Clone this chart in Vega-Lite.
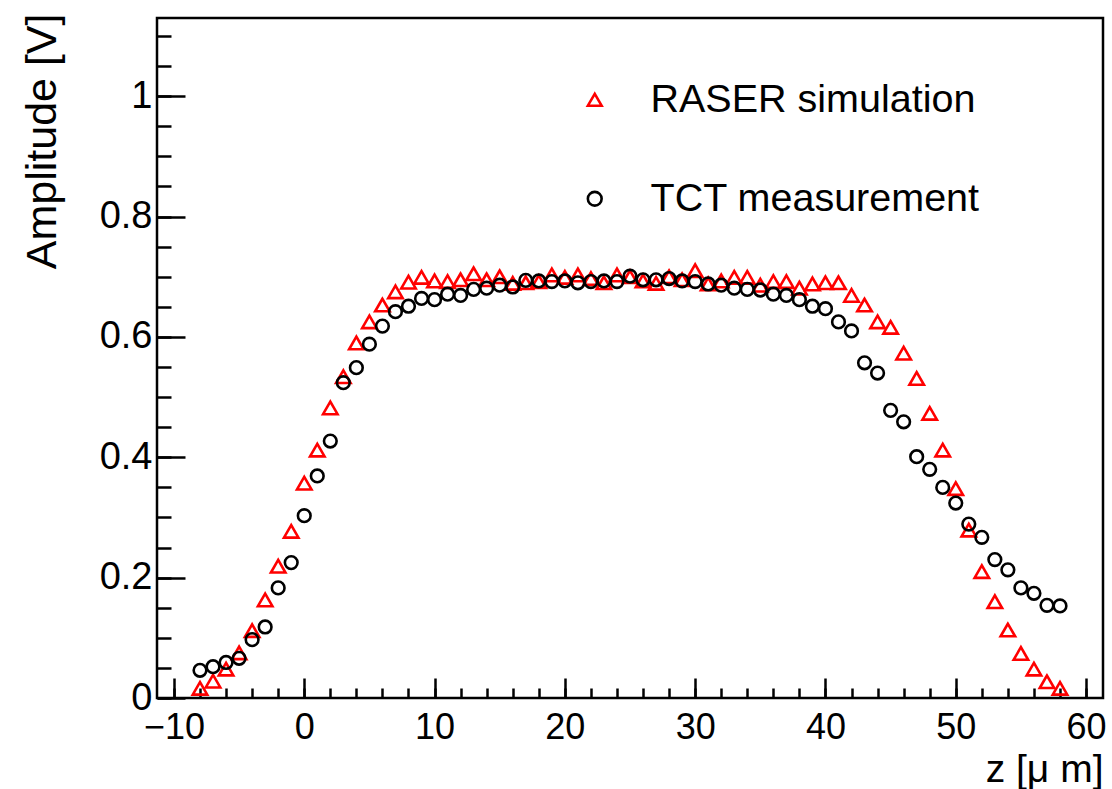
{
  "$schema": "https://vega.github.io/schema/vega-lite/v6.json",
  "width": 946,
  "height": 680,
  "autosize": {"type": "none"},
  "padding": {"left": 157, "top": 18, "right": 9, "bottom": 91},
  "background": "white",
  "config": {
    "font": "Liberation Sans",
    "view": {"stroke": "black", "strokeWidth": 2.5},
    "axis": {"grid": false, "domain": false, "tickColor": "black", "tickWidth": 2.5, "labelColor": "black", "titleColor": "black", "titleFontWeight": "normal", "labelFont": "Liberation Sans", "titleFont": "Liberation Sans", "labelOverlap": false, "labelFlush": false}
  },
  "data": {"values": [
    {"z": -8, "series": "RASER simulation", "amp": 0.016},
    {"z": -7, "series": "RASER simulation", "amp": 0.028},
    {"z": -6, "series": "RASER simulation", "amp": 0.048},
    {"z": -5, "series": "RASER simulation", "amp": 0.075},
    {"z": -4, "series": "RASER simulation", "amp": 0.112},
    {"z": -3, "series": "RASER simulation", "amp": 0.163},
    {"z": -2, "series": "RASER simulation", "amp": 0.219},
    {"z": -1, "series": "RASER simulation", "amp": 0.277},
    {"z": 0, "series": "RASER simulation", "amp": 0.357},
    {"z": 1, "series": "RASER simulation", "amp": 0.412},
    {"z": 2, "series": "RASER simulation", "amp": 0.482},
    {"z": 3, "series": "RASER simulation", "amp": 0.534},
    {"z": 4, "series": "RASER simulation", "amp": 0.590},
    {"z": 5, "series": "RASER simulation", "amp": 0.625},
    {"z": 6, "series": "RASER simulation", "amp": 0.653},
    {"z": 7, "series": "RASER simulation", "amp": 0.675},
    {"z": 8, "series": "RASER simulation", "amp": 0.691},
    {"z": 9, "series": "RASER simulation", "amp": 0.699},
    {"z": 10, "series": "RASER simulation", "amp": 0.693},
    {"z": 11, "series": "RASER simulation", "amp": 0.692},
    {"z": 12, "series": "RASER simulation", "amp": 0.695},
    {"z": 13, "series": "RASER simulation", "amp": 0.705},
    {"z": 14, "series": "RASER simulation", "amp": 0.695},
    {"z": 15, "series": "RASER simulation", "amp": 0.700},
    {"z": 16, "series": "RASER simulation", "amp": 0.689},
    {"z": 17, "series": "RASER simulation", "amp": 0.690},
    {"z": 18, "series": "RASER simulation", "amp": 0.692},
    {"z": 19, "series": "RASER simulation", "amp": 0.703},
    {"z": 20, "series": "RASER simulation", "amp": 0.699},
    {"z": 21, "series": "RASER simulation", "amp": 0.703},
    {"z": 22, "series": "RASER simulation", "amp": 0.697},
    {"z": 23, "series": "RASER simulation", "amp": 0.690},
    {"z": 24, "series": "RASER simulation", "amp": 0.703},
    {"z": 25, "series": "RASER simulation", "amp": 0.700},
    {"z": 26, "series": "RASER simulation", "amp": 0.693},
    {"z": 27, "series": "RASER simulation", "amp": 0.689},
    {"z": 28, "series": "RASER simulation", "amp": 0.700},
    {"z": 29, "series": "RASER simulation", "amp": 0.695},
    {"z": 30, "series": "RASER simulation", "amp": 0.710},
    {"z": 31, "series": "RASER simulation", "amp": 0.688},
    {"z": 32, "series": "RASER simulation", "amp": 0.693},
    {"z": 33, "series": "RASER simulation", "amp": 0.699},
    {"z": 34, "series": "RASER simulation", "amp": 0.699},
    {"z": 35, "series": "RASER simulation", "amp": 0.686},
    {"z": 36, "series": "RASER simulation", "amp": 0.692},
    {"z": 37, "series": "RASER simulation", "amp": 0.692},
    {"z": 38, "series": "RASER simulation", "amp": 0.681},
    {"z": 39, "series": "RASER simulation", "amp": 0.688},
    {"z": 40, "series": "RASER simulation", "amp": 0.690},
    {"z": 41, "series": "RASER simulation", "amp": 0.690},
    {"z": 42, "series": "RASER simulation", "amp": 0.669},
    {"z": 43, "series": "RASER simulation", "amp": 0.653},
    {"z": 44, "series": "RASER simulation", "amp": 0.625},
    {"z": 45, "series": "RASER simulation", "amp": 0.616},
    {"z": 46, "series": "RASER simulation", "amp": 0.573},
    {"z": 47, "series": "RASER simulation", "amp": 0.531},
    {"z": 48, "series": "RASER simulation", "amp": 0.473},
    {"z": 49, "series": "RASER simulation", "amp": 0.412},
    {"z": 50, "series": "RASER simulation", "amp": 0.348},
    {"z": 51, "series": "RASER simulation", "amp": 0.279},
    {"z": 52, "series": "RASER simulation", "amp": 0.210},
    {"z": 53, "series": "RASER simulation", "amp": 0.160},
    {"z": 54, "series": "RASER simulation", "amp": 0.113},
    {"z": 55, "series": "RASER simulation", "amp": 0.074},
    {"z": 56, "series": "RASER simulation", "amp": 0.048},
    {"z": 57, "series": "RASER simulation", "amp": 0.027},
    {"z": 58, "series": "RASER simulation", "amp": 0.016},
    {"z": -8, "series": "TCT measurement", "amp": 0.046},
    {"z": -7, "series": "TCT measurement", "amp": 0.052},
    {"z": -6, "series": "TCT measurement", "amp": 0.059},
    {"z": -5, "series": "TCT measurement", "amp": 0.066},
    {"z": -4, "series": "TCT measurement", "amp": 0.097},
    {"z": -3, "series": "TCT measurement", "amp": 0.118},
    {"z": -2, "series": "TCT measurement", "amp": 0.183},
    {"z": -1, "series": "TCT measurement", "amp": 0.225},
    {"z": 0, "series": "TCT measurement", "amp": 0.303},
    {"z": 1, "series": "TCT measurement", "amp": 0.369},
    {"z": 2, "series": "TCT measurement", "amp": 0.427},
    {"z": 3, "series": "TCT measurement", "amp": 0.524},
    {"z": 4, "series": "TCT measurement", "amp": 0.549},
    {"z": 5, "series": "TCT measurement", "amp": 0.588},
    {"z": 6, "series": "TCT measurement", "amp": 0.618},
    {"z": 7, "series": "TCT measurement", "amp": 0.642},
    {"z": 8, "series": "TCT measurement", "amp": 0.651},
    {"z": 9, "series": "TCT measurement", "amp": 0.664},
    {"z": 10, "series": "TCT measurement", "amp": 0.662},
    {"z": 11, "series": "TCT measurement", "amp": 0.671},
    {"z": 12, "series": "TCT measurement", "amp": 0.669},
    {"z": 13, "series": "TCT measurement", "amp": 0.679},
    {"z": 14, "series": "TCT measurement", "amp": 0.681},
    {"z": 15, "series": "TCT measurement", "amp": 0.686},
    {"z": 16, "series": "TCT measurement", "amp": 0.683},
    {"z": 17, "series": "TCT measurement", "amp": 0.694},
    {"z": 18, "series": "TCT measurement", "amp": 0.693},
    {"z": 19, "series": "TCT measurement", "amp": 0.692},
    {"z": 20, "series": "TCT measurement", "amp": 0.693},
    {"z": 21, "series": "TCT measurement", "amp": 0.690},
    {"z": 22, "series": "TCT measurement", "amp": 0.692},
    {"z": 23, "series": "TCT measurement", "amp": 0.693},
    {"z": 24, "series": "TCT measurement", "amp": 0.692},
    {"z": 25, "series": "TCT measurement", "amp": 0.701},
    {"z": 26, "series": "TCT measurement", "amp": 0.695},
    {"z": 27, "series": "TCT measurement", "amp": 0.695},
    {"z": 28, "series": "TCT measurement", "amp": 0.697},
    {"z": 29, "series": "TCT measurement", "amp": 0.693},
    {"z": 30, "series": "TCT measurement", "amp": 0.692},
    {"z": 31, "series": "TCT measurement", "amp": 0.688},
    {"z": 32, "series": "TCT measurement", "amp": 0.686},
    {"z": 33, "series": "TCT measurement", "amp": 0.681},
    {"z": 34, "series": "TCT measurement", "amp": 0.679},
    {"z": 35, "series": "TCT measurement", "amp": 0.678},
    {"z": 36, "series": "TCT measurement", "amp": 0.671},
    {"z": 37, "series": "TCT measurement", "amp": 0.669},
    {"z": 38, "series": "TCT measurement", "amp": 0.662},
    {"z": 39, "series": "TCT measurement", "amp": 0.651},
    {"z": 40, "series": "TCT measurement", "amp": 0.647},
    {"z": 41, "series": "TCT measurement", "amp": 0.625},
    {"z": 42, "series": "TCT measurement", "amp": 0.610},
    {"z": 43, "series": "TCT measurement", "amp": 0.557},
    {"z": 44, "series": "TCT measurement", "amp": 0.540},
    {"z": 45, "series": "TCT measurement", "amp": 0.478},
    {"z": 46, "series": "TCT measurement", "amp": 0.459},
    {"z": 47, "series": "TCT measurement", "amp": 0.401},
    {"z": 48, "series": "TCT measurement", "amp": 0.380},
    {"z": 49, "series": "TCT measurement", "amp": 0.350},
    {"z": 50, "series": "TCT measurement", "amp": 0.324},
    {"z": 51, "series": "TCT measurement", "amp": 0.289},
    {"z": 52, "series": "TCT measurement", "amp": 0.267},
    {"z": 53, "series": "TCT measurement", "amp": 0.230},
    {"z": 54, "series": "TCT measurement", "amp": 0.213},
    {"z": 55, "series": "TCT measurement", "amp": 0.183},
    {"z": 56, "series": "TCT measurement", "amp": 0.174},
    {"z": 57, "series": "TCT measurement", "amp": 0.154},
    {"z": 58, "series": "TCT measurement", "amp": 0.153}
  ]},
  "layer": [
    {
      "transform": [{"filter": "datum.series === 'RASER simulation'"}],
      "mark": {"type": "point", "filled": false, "strokeWidth": 2.6, "size": 210, "opacity": 1},
      "encoding": {
        "x": {"field": "z", "type": "quantitative",
          "scale": {"domain": [-11.3, 61.3], "nice": false, "zero": false},
          "axis": {"orient": "bottom", "values": [-10, 0, 10, 20, 30, 40, 50, 60], "tickSize": -20, "labelPadding": 32, "labelFontSize": 36,
            "title": "z [μ m]", "titleFontSize": 39, "titleAnchor": "end", "titleAlign": "right", "titleBaseline": "alphabetic", "titleX": 946, "titleY": 83}},
        "y": {"field": "amp", "type": "quantitative",
          "scale": {"domain": [0, 1.13], "nice": false, "zero": false},
          "axis": {"orient": "left", "values": [0, 0.2, 0.4, 0.6, 0.8, 1], "format": "~g", "tickSize": -28, "labelPadding": 33, "labelFontSize": 38,
            "title": "Amplitude [V]", "titleFontSize": 43, "titleAngle": 270, "titleAlign": "right", "titleBaseline": "alphabetic", "titleX": -102, "titleY": -5}},
        "color": {"field": "series", "type": "nominal",
          "scale": {"domain": ["RASER simulation", "TCT measurement"], "range": ["#ff0000", "#000000"]},
          "legend": {"orient": "none", "legendX": 418, "legendY": 62, "title": null, "padding": 0, "labelFontSize": 39.5, "labelColor": "black", "labelFont": "Liberation Sans", "labelLimit": 0, "labelOffset": 36, "rowPadding": 58, "symbolSize": 190, "symbolStrokeWidth": 2.6}},
        "shape": {"field": "series", "type": "nominal",
          "scale": {"domain": ["RASER simulation", "TCT measurement"], "range": ["triangle-up", "circle"]},
          "legend": {"orient": "none", "legendX": 418, "legendY": 62, "title": null, "padding": 0, "labelFontSize": 39.5, "labelColor": "black", "labelFont": "Liberation Sans", "labelLimit": 0, "labelOffset": 36, "rowPadding": 58, "symbolSize": 190, "symbolStrokeWidth": 2.6}}
      }
    },
    {
      "transform": [{"filter": "datum.series === 'TCT measurement'"}],
      "mark": {"type": "point", "filled": false, "strokeWidth": 2.6, "size": 160, "opacity": 1},
      "encoding": {
        "x": {"field": "z", "type": "quantitative", "axis": null},
        "y": {"field": "amp", "type": "quantitative", "axis": null},
        "color": {"field": "series", "type": "nominal"},
        "shape": {"field": "series", "type": "nominal"}
      }
    },
    {
      "mark": {"type": "point", "opacity": 0},
      "encoding": {
        "x": {"field": "z", "type": "quantitative",
          "axis": {"orient": "bottom", "values": [-10, -8, -6, -4, -2, 0, 2, 4, 6, 8, 10, 12, 14, 16, 18, 20, 22, 24, 26, 28, 30, 32, 34, 36, 38, 40, 42, 44, 46, 48, 50, 52, 54, 56, 58, 60], "tickSize": -10, "labels": false, "title": null}},
        "y": {"field": "amp", "type": "quantitative",
          "axis": {"orient": "left", "values": [0, 0.05, 0.1, 0.15, 0.2, 0.25, 0.3, 0.35, 0.4, 0.45, 0.5, 0.55, 0.6, 0.65, 0.7, 0.75, 0.8, 0.85, 0.9, 0.95, 1, 1.05, 1.1], "tickSize": -14, "labels": false, "title": null}}
      }
    }
  ],
  "resolve": {"axis": {"x": "independent", "y": "independent"}}
}
